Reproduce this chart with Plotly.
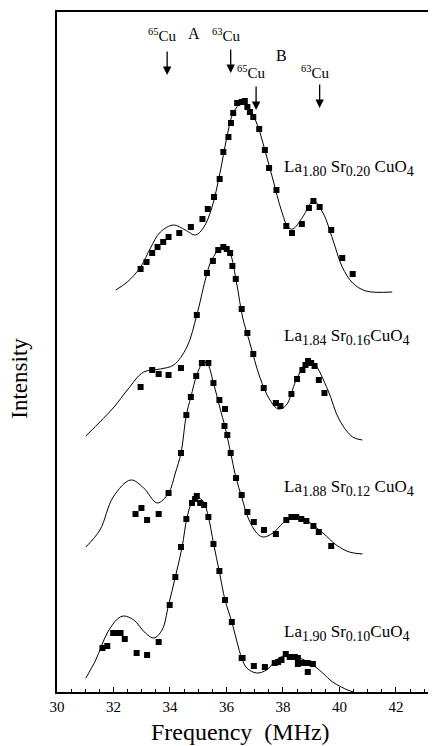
import plotly.graph_objects as go

# ---------------- data (frequency in MHz, intensity in arbitrary offset units) -------------
# La1.80 Sr0.20 CuO4
s1_pts_f = [32.96, 33.17, 33.37, 33.56, 33.76, 33.95, 34.33, 34.74, 35.15, 35.34, 35.56, 35.76, 35.89,
            36.07, 36.16, 36.24, 36.38, 36.54, 36.65, 36.74, 36.83, 36.95, 37.16, 37.36, 37.51, 37.77,
            38.12, 38.32, 38.67, 38.92, 39.08, 39.30, 39.71, 40.10, 40.47]
s1_pts_y = [423, 430, 439, 445, 450, 455, 459, 465, 473, 483, 495, 513, 540,
            555, 569, 579, 589, 590, 591, 585, 580, 575, 563, 542, 524, 502,
            466, 459, 468, 484, 491, 485, 462, 434, 418]
s1_fit_f = [32.08, 32.49, 32.96, 33.31, 33.66, 34.13, 34.54, 34.90, 35.18, 35.48, 35.77, 36.01, 36.24,
            36.54, 36.77, 37.07, 37.36, 37.65, 37.94, 38.18, 38.35, 38.70, 39.08, 39.42, 39.77, 40.10,
            40.47, 40.94, 41.87]
s1_fit_y = [402, 410, 425, 444, 460, 467, 462, 457, 464, 484, 519, 554, 579,
            589, 585, 569, 542, 512, 482, 465, 463, 475, 491, 479, 452, 425,
            409, 401, 400]

# La1.84 Sr0.16 CuO4
s2_pts_f = [32.96, 33.37, 33.60, 33.95, 34.39, 34.95, 35.31, 35.52, 35.71, 35.89, 36.01, 36.13, 36.21,
            36.33, 36.54, 36.74, 36.95, 37.32, 37.75, 37.91, 38.30, 38.50, 38.69, 38.80, 38.89, 39.00,
            39.12, 39.27, 39.47]
s2_pts_y = [305, 322, 318, 317, 324, 377, 419, 431, 442, 445, 443, 439, 426,
            413, 383, 359, 338, 304, 289, 286, 298, 313, 322, 327, 331, 329,
            326, 312, 299]
s2_fit_f = [31.02, 32.02, 32.49, 33.07, 33.66, 34.13, 34.60, 34.95, 35.25, 35.43, 35.77, 35.95, 36.13,
            36.36, 36.57, 36.83, 37.18, 37.54, 37.84, 38.12, 38.47, 38.89, 39.12, 39.59, 40.00, 40.47,
            40.81]
s2_fit_y = [256, 285, 302, 320, 323, 327, 345, 377, 412, 429, 444, 446, 439,
            409, 375, 349, 315, 292, 283, 287, 312, 331, 328, 302, 272, 255,
            252]

# La1.88 Sr0.12 CuO4
s3_pts_f = [32.78, 32.99, 33.19, 33.60, 33.95, 34.39, 34.58, 34.74, 34.93, 35.13, 35.36, 35.54, 35.75,
            35.95, 35.93, 36.03, 36.15, 36.34, 36.54, 36.74, 36.97, 37.33, 37.75, 38.12, 38.30, 38.47,
            38.65, 38.83, 39.08, 39.27, 39.71]
s3_pts_y = [178, 184, 172, 178, 199, 239, 277, 295, 316, 329, 329, 309, 292,
            283, 266, 257, 239, 214, 197, 180, 170, 162, 158, 172, 175, 175,
            173, 171, 166, 160, 146]
s3_fit_f = [31.02, 31.52, 31.99, 32.61, 33.07, 33.55, 33.95, 34.19, 34.39, 34.58, 34.74, 34.95, 35.16,
            35.31, 35.54, 35.77, 35.95, 36.15, 36.34, 36.54, 36.77, 37.07, 37.30, 37.65, 38.00, 38.36,
            38.70, 39.06, 39.42, 39.89, 40.35, 40.82]
s3_fit_y = [145, 162, 195, 212, 204, 189, 199, 219, 239, 277, 295, 317, 329,
            329, 309, 284, 265, 239, 214, 195, 174, 159, 155, 159, 169, 176,
            174, 167, 159, 147, 140, 138]

# La1.90 Sr0.10 CuO4
s4_pts_f = [31.61, 31.78, 31.99, 32.14, 32.25, 32.40, 32.82, 33.19, 33.60, 33.99, 34.19, 34.39, 34.58,
            34.78, 34.89, 34.95, 35.07, 35.21, 35.36, 35.54, 35.75, 35.95, 36.19, 36.54, 36.57, 36.97,
            37.36, 37.71, 37.83, 37.95, 38.10, 38.24, 38.42, 38.53, 38.53, 38.71, 38.88, 39.06, 38.88]
s4_pts_y = [44, 46, 59, 59, 59, 53, 39, 37, 50, 87, 115, 145, 173,
            189, 193, 196, 189, 187, 175, 148, 121, 92, 70, 34, 34, 26,
            25, 29, 30, 32, 38, 35, 35, 34, 28, 29, 29, 28, 20]
s4_fit_f = [31.02, 31.37, 31.78, 32.14, 32.37, 32.72, 33.13, 33.43, 33.72, 33.95, 34.19, 34.43, 34.60,
            34.78, 34.95, 35.19, 35.36, 35.54, 35.75, 35.95, 36.19, 36.54, 36.72, 37.07, 37.42, 37.77,
            38.12, 38.59, 39.06, 39.41, 39.76, 40.29, 40.50]
s4_fit_y = [14, 32, 59, 73, 76, 72, 59, 54, 62, 87, 115, 145, 174,
            190, 195, 190, 175, 149, 120, 92, 70, 34, 24, 19, 22, 32,
            37, 34, 27, 19, 10, 2, 0]

SUB = "<sub><span style='font-size:14px'>{}</span></sub>"
sample_labels = ["La" + SUB.format("1.80") + " Sr" + SUB.format("0.20") + " CuO" + SUB.format("4"),
                 "La" + SUB.format("1.84") + " Sr" + SUB.format("0.16") + "CuO" + SUB.format("4"),
                 "La" + SUB.format("1.88") + " Sr" + SUB.format("0.12") + " CuO" + SUB.format("4"),
                 "La" + SUB.format("1.90") + " Sr" + SUB.format("0.10") + "CuO" + SUB.format("4")]
label_y = [524, 355, 204, 59]

# isotope line markers (A and B sites)
iso_labels = ["<sup>65</sup>Cu", "<sup>63</sup>Cu", "<sup>65</sup>Cu", "<sup>63</sup>Cu"]
iso_freqs = [33.90, 36.15, 37.05, 39.30]

x_ticks = [30, 32, 34, 36, 38, 40, 42]

FONT = "Liberation Serif"

fig = go.Figure()
series = [(s1_fit_f, s1_fit_y, s1_pts_f, s1_pts_y),
          (s2_fit_f, s2_fit_y, s2_pts_f, s2_pts_y),
          (s3_fit_f, s3_fit_y, s3_pts_f, s3_pts_y),
          (s4_fit_f, s4_fit_y, s4_pts_f, s4_pts_y)]
for ff, fy, pf, py in series:
    fig.add_trace(go.Scatter(x=ff, y=fy, mode="lines", line=dict(color="black", width=1, shape="spline", smoothing=1.0),
                             showlegend=False, hoverinfo="skip"))
    fig.add_trace(go.Scatter(x=pf, y=py, mode="markers", marker=dict(symbol="square", size=6, color="black"),
                             showlegend=False))

ann = []
for txt, yy in zip(sample_labels, label_y):
    ann.append(dict(x=37.95, y=yy, xref="x", yref="y", text=txt, showarrow=False, xanchor="left",
                    yanchor="middle", font=dict(family=FONT, size=17, color="black")))

# arrows
arrow_top = [642, 644, 607, 609]
arrow_head = [617, 619, 582, 584]
for f, yt, yh in zip(iso_freqs, arrow_top, arrow_head):
    ann.append(dict(x=f, y=yh, ax=f, ay=yt, xref="x", yref="y", axref="x", ayref="y", text="",
                    showarrow=True, arrowhead=2, arrowsize=1.3, arrowwidth=1.3, arrowcolor="black"))
iso_text_x = [33.72, 35.99, 36.87, 39.15]
iso_text_y = [657, 657, 620, 620]
for t, xx, yy in zip(iso_labels, iso_text_x, iso_text_y):
    ann.append(dict(x=xx, y=yy, xref="x", yref="y", text=t, showarrow=False, xanchor="center",
                    yanchor="middle", font=dict(family=FONT, size=15, color="black")))
ann.append(dict(x=34.85, y=659, xref="x", yref="y", text="A", showarrow=False, xanchor="center",
                yanchor="middle", font=dict(family=FONT, size=16, color="black")))
ann.append(dict(x=37.95, y=637, xref="x", yref="y", text="B", showarrow=False, xanchor="center",
                yanchor="middle", font=dict(family=FONT, size=16, color="black")))

# axis titles
ann.append(dict(x=36.48, y=-0.059, xref="x", yref="paper", text="Frequency  (MHz)", showarrow=False,
                xanchor="center", yanchor="middle", font=dict(family=FONT, size=24, color="black")))
ann.append(dict(x=-0.098, y=0.462, xref="paper", yref="paper", text="Intensity", showarrow=False,
                xanchor="center", yanchor="middle", textangle=-90,
                font=dict(family=FONT, size=23, color="black")))

# the page body adds an 8px margin, so the figure is sized to fill the rest of the 436x746 window
fig.update_layout(
    width=428, height=738,
    margin=dict(l=49, r=0, t=4, b=54, autoexpand=False),
    paper_bgcolor="white", plot_bgcolor="white",
    annotations=ann,
    xaxis=dict(range=[30, 43.42], tickvals=x_ticks, ticktext=[str(v) for v in x_ticks],
               ticks="inside", ticklen=5, tickwidth=1, tickcolor="black",
               minor=dict(dtick=0.5, tick0=30, ticks="inside", ticklen=3, tickcolor="black"),
               showline=True, linecolor="black", linewidth=1.5, mirror=True,
               showgrid=False, zeroline=False,
               tickfont=dict(family=FONT, size=15, color="black")),
    yaxis=dict(range=[0, 680], showticklabels=False, ticks="", showline=True, linecolor="black",
               linewidth=1.5, showgrid=False, zeroline=False),
)

fig.write_html("out.html")
